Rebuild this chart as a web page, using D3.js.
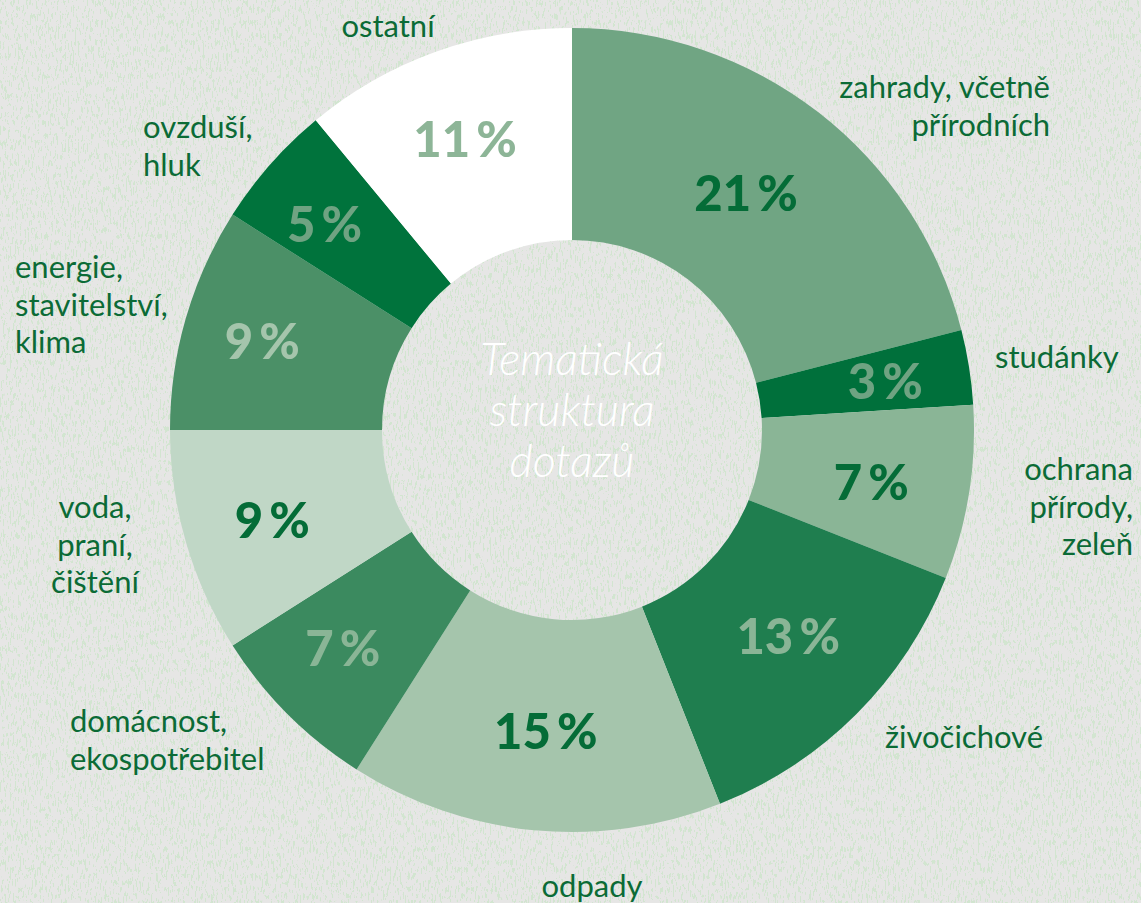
<!DOCTYPE html>
<html lang="cs">
<head>
<meta charset="utf-8">
<title>Tematická struktura dotazů</title>
<script src="https://d3js.org/d3.v7.min.js"></script>
<style>
  html, body { margin: 0; padding: 0; background: #e6e6e5; }
  svg { display: block; }
  .label { font-family: Lato, "Open Sans", sans-serif; font-size: 31px; fill: #0b6b36; }
  .pct { font-family: Lato, sans-serif; font-weight: 900; font-size: 49px; }
  .center { font-family: Lato, sans-serif; font-style: italic; font-weight: 300; font-size: 45px; fill: #ffffff; }
</style>
</head>
<body>
<script>
// data, clockwise from 12 o'clock
var categories = ["zahrady, včetně přírodních", "studánky", "ochrana přírody, zeleň", "živočichové", "odpady",
                  "domácnost, ekospotřebitel", "voda, praní, čištění", "energie, stavitelství, klima", "ovzduší, hluk", "ostatní"];
var values = [21, 3, 7, 13, 15, 7, 9, 9, 5, 11];
var labelLines = [["zahrady, včetně", "přírodních"], ["studánky"], ["ochrana", "přírody,", "zeleň"], ["živočichové"], ["odpady"],
                  ["domácnost,", "ekospotřebitel"], ["voda,", "praní,", "čištění"], ["energie,", "stavitelství,", "klima"], ["ovzduší,", "hluk"], ["ostatní"]];
var sliceColors = ["#70a583", "#00703b", "#8ab596", "#1f7e4f", "#a5c5ac", "#3b8a5f", "#c0d7c6", "#4b9067", "#00733c", "#ffffff"];
var pctColors = ["#046c37", "#6fa382", "#046c37", "#8ab596", "#046c37", "#8ab596", "#046c37", "#a5c5ac", "#6fa382", "#8db597"];
var centerTitle = ["Tematická", "struktura", "dotazů"];

// label placement relative to chart centre: [dx, dy of first baseline, anchor]
var labelLayout = [[478, -332, "end"], [423, -62, "start"], [561, 50, "end"], [313, 318, "start"], [20, 467, "middle"],
                   [-502, 302, "start"], [-477, 88, "middle"], [-557, -152, "start"], [-429, -292, "start"], [-184, -393, "middle"]];
// small hand nudges of the percentage labels [dx, dy]
var pctNudge = [[-16, 7], [7, -2], [-7, 3], [-3, -14], [3, -9], [-10, -2], [-2, 3], [-12, -4], [-15, -2], [-2, 0]];

var W = 1141, H = 903;
var cx = 572, cy = 430, rOuter = 402, rInner = 190, rPct = 310, lineH = 37.5;

var svg = d3.select("body").append("svg").attr("width", W).attr("height", H);

// speckled paper texture
var defs = svg.append("defs");
var f = defs.append("filter").attr("id", "speck").attr("x", 0).attr("y", 0).attr("width", "100%").attr("height", "100%");
f.append("feTurbulence").attr("type", "fractalNoise").attr("baseFrequency", "0.6 0.15").attr("numOctaves", 3).attr("seed", 7).attr("result", "n");
f.append("feColorMatrix").attr("in", "n").attr("type", "matrix")
  .attr("values", "0 0 0 0 0.62  0 0 0 0 0.78  0 0 0 0 0.60  30 0 0 0 -17.5");
svg.append("rect").attr("width", W).attr("height", H).attr("fill", "#e6e6e5");
svg.append("rect").attr("width", W).attr("height", H).attr("filter", "url(#speck)").attr("opacity", 0.8);

var g = svg.append("g").attr("transform", "translate(" + cx + "," + cy + ")");

var pie = d3.pie().sort(null).value(function(d) { return d; });
var arcs = pie(values);
var arc = d3.arc().innerRadius(rInner).outerRadius(rOuter);
var pctArc = d3.arc().innerRadius(rPct).outerRadius(rPct);

g.selectAll("path.slice")
  .data(arcs)
  .enter().append("path")
  .attr("class", "slice")
  .attr("d", arc)
  .attr("fill", function(d, i) { return sliceColors[i]; });

g.selectAll("text.pct")
  .data(arcs)
  .enter().append("text")
  .attr("class", "pct")
  .attr("text-anchor", "middle")
  .attr("dominant-baseline", "central")
  .attr("transform", function(d, i) {
    var c = pctArc.centroid(d);
    return "translate(" + (c[0] + pctNudge[i][0]) + "," + (c[1] + pctNudge[i][1]) + ")";
  })
  .attr("fill", function(d, i) { return pctColors[i]; })
  .text(function(d) { return d.data + "\u2009%"; });

// outside labels
labelLines.forEach(function(lines, i) {
  var L = labelLayout[i];
  var t = g.append("text").attr("class", "label").attr("text-anchor", L[2]);
  lines.forEach(function(s, j) {
    t.append("tspan").attr("x", L[0]).attr("y", L[1] + j * lineH).text(s);
  });
});

// centre title
var ct = g.append("text").attr("class", "center").attr("text-anchor", "middle");
centerTitle.forEach(function(s, j) {
  ct.append("tspan").attr("x", 0).attr("y", -55 + j * 51).text(s);
});
</script>
</body>
</html>
